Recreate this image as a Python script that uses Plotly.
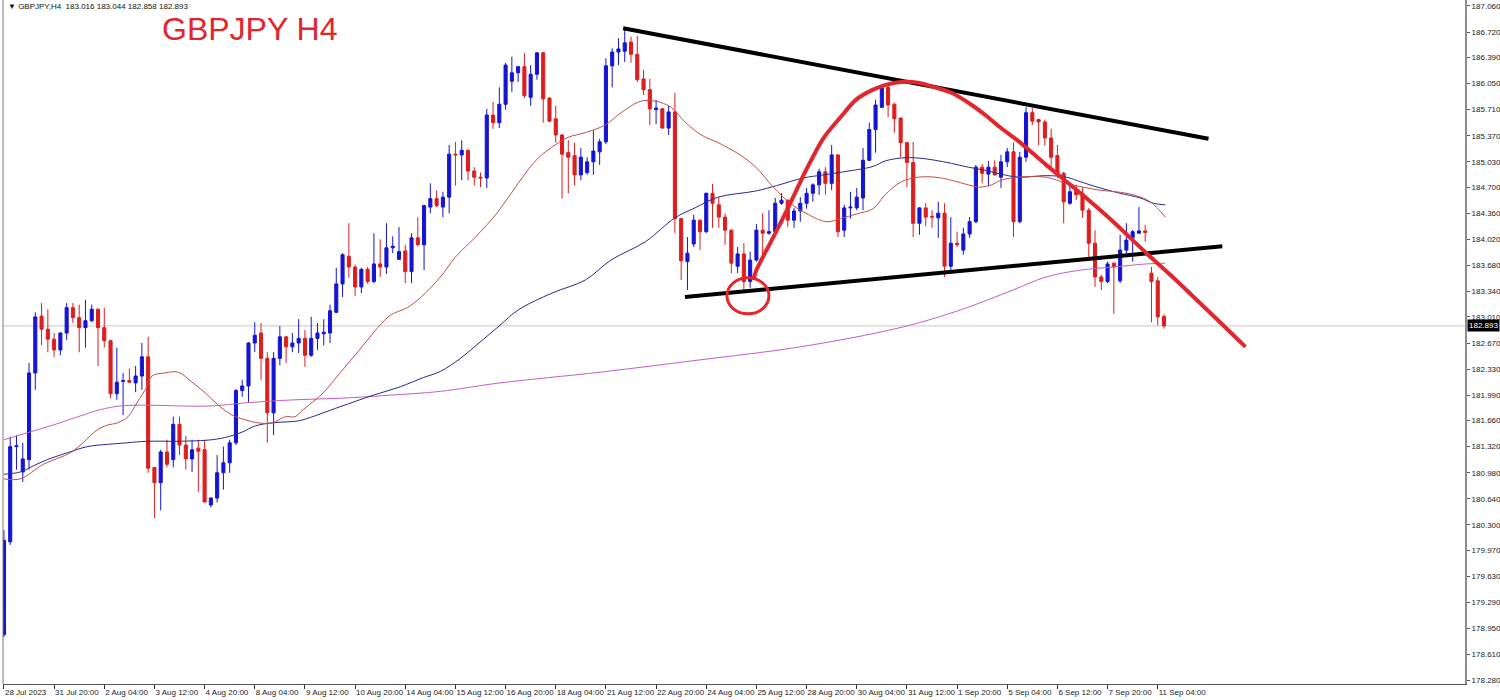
import plotly.graph_objects as go

# ---------------- data ----------------
opens = [178.87, 180.08, 181.32, 180.99, 181.15, 182.28, 183.02, 182.85, 182.72, 182.58,
         182.80, 183.13, 183.00, 182.87, 182.96, 183.11, 182.87, 182.70, 182.01, 182.17,
         182.18, 182.15, 182.24, 182.49, 181.05, 180.85, 181.25, 181.15, 181.61, 181.34,
         181.16, 181.30, 181.28, 180.56, 180.65, 180.98, 181.11, 181.37, 182.05, 182.11,
         182.67, 182.80, 182.47, 181.76, 182.47, 182.75, 182.62, 182.67, 182.73, 182.51,
         182.73, 182.79, 182.80, 183.07, 183.44, 183.80, 183.66, 183.40, 183.63, 183.47,
         183.70, 183.66, 183.91, 183.76, 183.87, 183.60, 184.04, 183.95, 184.44, 184.55,
         184.44, 184.57, 185.13, 185.12, 185.18, 184.91, 184.83, 184.82, 185.64, 185.54,
         185.78, 186.08, 186.19, 186.27, 185.87, 186.17, 186.45, 185.86, 185.59, 185.38,
         185.15, 185.11, 184.86, 184.89, 185.03, 185.16, 185.29, 186.28, 186.46, 186.47,
         186.59, 186.43, 186.11, 185.97, 185.71, 185.72, 185.47, 185.68, 184.29, 183.73,
         183.96, 184.27, 184.12, 184.62, 184.47, 184.31, 184.14, 183.67, 183.83, 183.47,
         183.75, 184.14, 184.10, 184.12, 184.49, 184.53, 184.27, 184.39, 184.49, 184.62,
         184.73, 184.90, 184.75, 185.12, 184.14, 184.43, 184.43, 184.56, 185.05, 185.45,
         185.74, 186.00, 185.78, 185.60, 185.28, 185.02, 184.23, 184.43, 184.32, 184.30,
         184.36, 183.67, 183.97, 183.88, 184.09, 184.25, 184.96, 184.87, 184.96, 184.83,
         185.03, 185.16, 184.25, 185.09, 185.67, 185.58, 185.55, 185.34, 185.11, 184.88,
         184.49, 184.66, 184.62, 184.40, 183.97, 183.53, 183.47, 183.71, 183.48, 183.88,
         184.04, 184.10, 184.13, 183.58, 183.48, 183.016]
highs = [180.23, 181.45, 181.47, 181.37, 182.41, 183.07, 183.19, 183.11, 182.80, 182.81,
         183.19, 183.19, 183.17, 183.23, 183.17, 183.12, 183.13, 182.71, 182.61, 182.28,
         182.34, 182.37, 182.67, 182.75, 181.05, 181.28, 181.41, 181.71, 181.71, 181.46,
         181.41, 181.41, 181.41, 180.66, 181.21, 181.32, 181.41, 182.07, 182.19, 182.68,
         182.94, 182.93, 182.55, 182.55, 182.89, 182.76, 182.80, 182.98, 182.84, 183.01,
         182.93, 182.98, 183.17, 183.65, 183.84, 184.23, 183.69, 183.65, 183.66, 184.10,
         184.02, 184.23, 184.06, 184.18, 183.95, 184.10, 184.31, 184.47, 184.75, 184.66,
         184.64, 185.25, 185.29, 185.31, 185.19, 184.96, 184.89, 185.72, 185.81, 186.00,
         186.32, 186.40, 186.28, 186.45, 186.29, 186.46, 186.46, 185.87, 185.76, 185.39,
         185.31, 185.28, 185.21, 185.09, 185.44, 185.33, 186.38, 186.51, 186.64, 186.75,
         186.66, 186.67, 186.23, 186.11, 185.84, 185.73, 185.76, 185.93, 184.30, 184.05,
         184.34, 184.28, 184.63, 184.74, 184.57, 184.36, 184.15, 183.92, 183.97, 183.86,
         184.22, 184.36, 184.40, 184.56, 184.62, 184.54, 184.43, 184.57, 184.69, 184.75,
         184.94, 184.96, 185.25, 185.13, 184.47, 184.64, 184.69, 185.21, 185.54, 185.84,
         186.03, 186.06, 185.80, 185.61, 185.29, 185.29, 184.44, 184.49, 184.40, 184.51,
         184.49, 184.31, 184.12, 184.17, 184.31, 184.99, 185.00, 185.04, 185.05, 185.12,
         185.21, 185.28, 185.16, 185.74, 185.73, 185.59, 185.58, 185.46, 185.25, 184.90,
         184.73, 184.73, 184.70, 184.43, 184.14, 183.56, 183.73, 183.72, 184.08, 184.23,
         184.14, 184.44, 184.21, 183.66, 183.53, 183.044]
lows = [178.84, 180.04, 181.02, 180.86, 181.02, 182.06, 182.64, 182.55, 182.49, 182.51,
        182.71, 182.93, 182.55, 182.61, 182.94, 182.37, 182.61, 181.95, 181.93, 181.73,
        182.15, 182.03, 182.06, 180.98, 180.39, 180.49, 181.05, 181.05, 181.21, 181.02,
        180.99, 180.73, 180.59, 180.53, 180.59, 180.76, 180.98, 181.34, 181.97, 181.90,
        182.55, 182.19, 181.37, 181.47, 182.38, 182.41, 182.55, 182.54, 182.36, 182.49,
        182.58, 182.64, 182.67, 183.06, 183.27, 183.52, 183.28, 183.32, 183.44, 183.45,
        183.53, 183.57, 183.84, 183.75, 183.45, 183.45, 183.93, 183.62, 184.36, 184.44,
        184.31, 184.36, 184.72, 184.79, 184.79, 184.72, 184.70, 184.69, 185.46, 185.47,
        185.71, 185.94, 186.07, 185.86, 185.76, 186.10, 185.54, 185.55, 185.28, 184.55,
        184.62, 184.72, 184.79, 184.86, 184.86, 184.99, 185.26, 186.00, 186.29, 186.33,
        186.32, 186.07, 185.90, 185.51, 185.52, 185.46, 185.38, 184.10, 183.49, 183.36,
        183.92, 183.88, 184.10, 184.17, 184.17, 183.95, 183.58, 183.58, 183.36, 183.39,
        183.73, 183.82, 184.08, 184.10, 184.47, 184.18, 184.17, 184.25, 184.42, 184.51,
        184.60, 184.60, 184.66, 184.05, 184.05, 184.29, 184.40, 184.40, 185.04, 185.15,
        185.73, 185.61, 185.41, 185.09, 184.70, 184.05, 184.08, 184.19, 184.17, 184.04,
        183.53, 183.62, 183.92, 183.82, 184.04, 184.23, 184.75, 184.71, 184.85, 184.69,
        184.96, 184.05, 184.23, 185.03, 185.51, 185.25, 185.24, 184.96, 184.82, 184.23,
        184.47, 184.53, 184.30, 183.75, 183.40, 183.36, 183.45, 183.05, 183.45, 183.84,
        183.73, 184.10, 183.99, 182.94, 182.90, 182.858]
closes = [180.10, 181.32, 181.33, 181.16, 182.28, 183.01, 182.85, 182.72, 182.58, 182.80,
          183.13, 183.00, 182.87, 182.96, 183.11, 182.87, 182.70, 182.01, 182.16, 182.18,
          182.16, 182.24, 182.49, 181.04, 180.85, 181.25, 181.09, 181.61, 181.34, 181.16,
          181.28, 181.26, 180.60, 180.65, 180.98, 181.11, 181.37, 182.05, 182.11, 182.67,
          182.77, 182.47, 181.76, 182.47, 182.75, 182.62, 182.67, 182.73, 182.51, 182.73,
          182.80, 182.81, 183.09, 183.44, 183.82, 183.66, 183.40, 183.63, 183.47, 183.70,
          183.66, 183.91, 183.93, 183.86, 183.60, 184.04, 183.95, 184.46, 184.55, 184.46,
          184.57, 185.13, 185.12, 185.18, 184.91, 184.83, 184.82, 185.64, 185.54, 185.78,
          186.29, 186.19, 186.27, 185.89, 186.17, 186.45, 185.85, 185.56, 185.38, 185.13,
          185.09, 184.86, 185.09, 185.03, 185.17, 185.29, 186.28, 186.46, 186.50, 186.58,
          186.43, 186.10, 185.97, 185.72, 185.73, 185.47, 185.68, 184.29, 183.74, 183.84,
          184.27, 184.12, 184.62, 184.49, 184.31, 184.14, 183.71, 183.83, 183.47, 183.75,
          184.14, 184.10, 184.12, 184.49, 184.53, 184.27, 184.39, 184.49, 184.62, 184.73,
          184.90, 184.75, 185.12, 184.12, 184.43, 184.44, 184.57, 185.05, 185.45, 185.77,
          185.99, 185.77, 185.59, 185.28, 185.02, 184.23, 184.43, 184.31, 184.31, 184.36,
          183.67, 183.97, 183.95, 184.09, 184.25, 184.96, 184.88, 184.96, 184.86, 185.03,
          185.16, 184.25, 185.09, 185.67, 185.56, 185.55, 185.34, 185.09, 184.88, 184.51,
          184.64, 184.60, 184.40, 183.97, 183.53, 183.47, 183.70, 183.66, 183.88, 184.01,
          184.12, 184.13, 184.11, 183.47, 183.01, 182.893]

date_labels = ["28 Jul 2023", "31 Jul 20:00", "2 Aug 04:00", "3 Aug 12:00", "4 Aug 20:00",
               "8 Aug 04:00", "9 Aug 12:00", "10 Aug 20:00", "14 Aug 04:00", "15 Aug 12:00",
               "16 Aug 20:00", "18 Aug 04:00", "21 Aug 12:00", "22 Aug 20:00", "24 Aug 04:00",
               "25 Aug 12:00", "28 Aug 20:00", "30 Aug 04:00", "31 Aug 12:00", "1 Sep 20:00",
               "5 Sep 04:00", "6 Sep 12:00", "7 Sep 20:00", "11 Sep 04:00"]
bars_per_label = 8

price_ticks = [187.060, 186.720, 186.390, 186.050, 185.710, 185.370, 185.030, 184.700,
               184.360, 184.020, 183.680, 183.340, 183.010, 182.670, 182.330, 181.990,
               181.660, 181.320, 180.980, 180.640, 180.300, 179.970, 179.630, 179.290,
               178.950, 178.610, 178.280]

# moving averages (sampled along the drawn lines: bar index, price)
ma_fast_x = [0, 2.6, 6.3, 10.6, 12.6, 14.9, 16.5, 18.1, 19.8, 21.2, 22.8, 23.6, 25.7, 27.8, 30.0,
             32.1, 34.2, 36.4, 38.5, 40.5, 42.8, 44.9, 46.4, 47.7, 50.9, 53.6, 56.3, 58.9, 61.6,
             64.3, 66.4, 69.6, 72.0, 75.2, 78.8, 82.0, 85.2, 87.9, 90.0, 92.7, 95.9, 98.4, 101.6,
             103.9, 106.4, 108.6, 111.2, 113.9, 115.5, 117.4, 119.9, 122.7, 125.4, 127.9, 131.1,
             133.4, 135.9, 138.6, 140.5, 143.1, 145.8, 148.5, 151.1, 153.8, 155.4, 157.5, 159.0,
             161.8, 166.2, 169.4, 172.1, 174.8, 177.4, 180.1, 182.8, 185.2]
ma_fast_y = [180.90, 180.90, 181.09, 181.24, 181.37, 181.54, 181.60, 181.63, 181.71, 181.89,
             182.10, 182.24, 182.28, 182.29, 182.16, 182.02, 181.86, 181.73, 181.67, 181.63,
             181.63, 181.71, 181.71, 181.80, 182.02, 182.28, 182.54, 182.80, 183.03, 183.13,
             183.26, 183.53, 183.79, 184.05, 184.38, 184.75, 185.08, 185.25, 185.35, 185.41,
             185.51, 185.67, 185.82, 185.82, 185.74, 185.55, 185.38, 185.28, 185.21, 185.12,
             184.96, 184.70, 184.49, 184.36, 184.25, 184.29, 184.35, 184.42, 184.60, 184.77,
             184.83, 184.83, 184.79, 184.73, 184.70, 184.73, 184.79, 184.83, 184.83, 184.75,
             184.70, 184.66, 184.64, 184.60, 184.51, 184.31]

ma_mid_x = [0, 2.6, 4.7, 6.9, 10.1, 13.3, 16.5, 19.6, 22.8, 27.8, 33.2, 35.8, 38.0, 40.1, 42.8,
            46.4, 47.7, 53.6, 58.9, 63.2, 66.9, 69.6, 72.8, 75.9, 79.1, 82.0, 87.4, 92.7, 96.8,
            102.3, 107.0, 110.2, 113.9, 119.9, 123.2, 127.5, 130.7, 133.9, 138.6, 140.5, 143.1,
            145.8, 148.5, 151.1, 153.8, 156.5, 159.0, 161.8, 166.2, 169.4, 171.7, 174.8, 178.0,
            181.2, 183.3, 185.2]
ma_mid_y = [180.96, 180.99, 181.07, 181.15, 181.24, 181.32, 181.35, 181.37, 181.39, 181.39,
            181.41, 181.45, 181.51, 181.59, 181.63, 181.65, 181.67, 181.84, 181.99, 182.10,
            182.22, 182.30, 182.47, 182.68, 182.90, 183.10, 183.32, 183.49, 183.75, 183.99,
            184.30, 184.43, 184.57, 184.65, 184.72, 184.82, 184.86, 184.90, 184.97, 185.04,
            185.08, 185.08, 185.05, 185.01, 184.96, 184.92, 184.87, 184.83, 184.85, 184.83,
            184.77, 184.69, 184.62, 184.56, 184.49, 184.47]

ma_slow_x = [0, 3.7, 7.8, 12.2, 15.3, 18.5, 23.3, 27.8, 33.2, 38.5, 46.4, 53.6, 61.6, 69.6,
             79.1, 95.1, 111.0, 127.0, 142.9, 152.5, 160.9, 166.2, 171.7, 176.9, 182.2, 185.2]
ma_slow_y = [181.41, 181.50, 181.60, 181.72, 181.80, 181.85, 181.86, 181.85, 181.85, 181.89,
             181.93, 181.95, 181.99, 182.04, 182.15, 182.29, 182.45, 182.62, 182.87, 183.10,
             183.36, 183.53, 183.62, 183.66, 183.70, 183.71]

# hand-drawn analysis marks (bar index, price)
upper_line_x = [98.75, 192.1]
upper_line_y = [186.77, 185.33]
lower_line_x = [108.6, 194.3]
lower_line_y = [183.27, 183.93]
arc_x = [119.5, 120.0, 122.7, 125.4, 127.9, 130.7, 133.4, 135.9, 138.6, 140.5, 143.1, 145.8,
         148.5, 151.1, 153.8, 156.5, 159.0, 161.8, 166.2, 171.7, 176.9, 182.2, 186.5, 198.0]
arc_y = [183.49, 183.62, 184.05, 184.49, 184.92, 185.34, 185.61, 185.84, 185.97, 186.03, 186.07,
         186.06, 186.00, 185.93, 185.80, 185.64, 185.47, 185.30, 184.99, 184.62, 184.25, 183.84,
         183.52, 182.62]
circle_x = [115.3, 122.0]
circle_y = [183.05, 183.52]

header_text = "\u25BC GBPJPY,H4  183.016 183.044 182.858 182.893"
title_text = "GBPJPY H4"
last_price = closes[-1]

# ---------------- figure ----------------
bar_idx = list(range(len(opens)))
BLUE = "#1414d2"
RED = "#dc1e1e"

fig = go.Figure()

fig.add_trace(go.Scatter(x=ma_slow_x, y=ma_slow_y, mode="lines",
                         line=dict(color="#c45ec4", width=1, shape="spline"), hoverinfo="skip"))
fig.add_trace(go.Scatter(x=ma_mid_x, y=ma_mid_y, mode="lines",
                         line=dict(color="#2a2a8a", width=1, shape="spline"), hoverinfo="skip"))
fig.add_trace(go.Scatter(x=ma_fast_x, y=ma_fast_y, mode="lines",
                         line=dict(color="#c0504a", width=1, shape="spline"), hoverinfo="skip"))

fig.add_trace(go.Candlestick(
    x=bar_idx, open=opens, high=highs, low=lows, close=closes,
    increasing=dict(line=dict(color=BLUE, width=1), fillcolor=BLUE),
    decreasing=dict(line=dict(color=RED, width=1), fillcolor=RED),
    whiskerwidth=0, hoverinfo="skip"))

# analysis drawings
fig.add_trace(go.Scatter(x=upper_line_x, y=upper_line_y, mode="lines",
                         line=dict(color="black", width=4), hoverinfo="skip"))
fig.add_trace(go.Scatter(x=lower_line_x, y=lower_line_y, mode="lines",
                         line=dict(color="black", width=4), hoverinfo="skip"))
fig.add_trace(go.Scatter(x=arc_x, y=arc_y, mode="lines",
                         line=dict(color="#e3262b", width=4, shape="spline", smoothing=0.8),
                         hoverinfo="skip"))

shapes = [
    dict(type="circle", xref="x", yref="y", x0=circle_x[0], x1=circle_x[1],
         y0=circle_y[0], y1=circle_y[1], line=dict(color="#e3262b", width=3)),
    dict(type="line", xref="paper", yref="y", x0=0, x1=1, y0=last_price, y1=last_price,
         line=dict(color="#c8c8c8", width=1), layer="below"),
    dict(type="line", xref="paper", yref="paper", x0=0, x1=0, y0=0, y1=1,
         line=dict(color="#7a7a7a", width=1)),
]

annotations = [
    dict(text=title_text, xref="paper", yref="paper", x=0.1075, y=0.957, xanchor="left",
         yanchor="middle", showarrow=False,
         font=dict(family="Liberation Sans, Arial", size=32, color="#e3262b")),
    dict(text=header_text, xref="paper", yref="paper", x=0.002, y=1.0, xanchor="left",
         yanchor="top", showarrow=False,
         font=dict(family="Liberation Sans, Arial", size=8, color="#111111")),
    dict(text="%.3f" % last_price, xref="paper", yref="y", x=1, y=last_price, xanchor="left",
         yanchor="middle", xshift=2, showarrow=False, bgcolor="black", borderpad=1,
         font=dict(family="Liberation Sans, Arial", size=8, color="white")),
]

fig.update_layout(
    width=1500, height=700,
    margin=dict(l=3, r=35, t=0, b=16, autoexpand=False),
    paper_bgcolor="white", plot_bgcolor="white",
    showlegend=False,
    shapes=shapes, annotations=annotations,
    xaxis=dict(
        range=[-0.15, 233.0], rangeslider=dict(visible=False),
        tickmode="array",
        tickvals=[i * bars_per_label for i in range(len(date_labels))],
        ticktext=date_labels,
        tickangle=0, automargin=False,
        ticks="outside", ticklen=4, tickcolor="#333333",
        ticklabelposition="outside right",
        tickfont=dict(family="Liberation Sans, Arial", size=8, color="#222222"),
        showgrid=False, zeroline=False,
        showline=True, linecolor="#555555", linewidth=1,
    ),
    yaxis=dict(
        range=[178.228, 187.138], side="right", automargin=False,
        tickmode="array", tickvals=price_ticks,
        ticktext=["%.3f" % v for v in price_ticks],
        ticks="outside", ticklen=3, tickcolor="#555555",
        tickfont=dict(family="Liberation Sans, Arial", size=8, color="#222222"),
        showgrid=False, zeroline=False,
        showline=True, linecolor="#8c8c8c", linewidth=2,
    ),
)

fig.write_html("out.html", config={"displayModeBar": False},
               post_script="document.body.style.margin='0';")
